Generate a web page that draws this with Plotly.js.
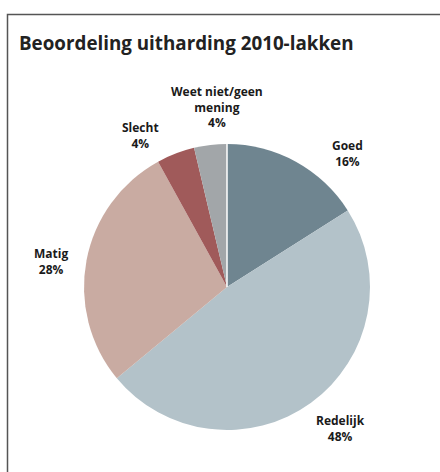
<!DOCTYPE html>
<html>
<head>
<meta charset="utf-8">
<script src="https://cdn.plot.ly/plotly-3.0.1.min.js"></script>
<style>html,body{margin:0;padding:0;background:#fff;}#chart{width:440px;height:472px;}</style>
</head>
<body>
<div id="chart"></div>
<script>
const categories = ["Goed", "Redelijk", "Matig", "Slecht", "Weet niet/geen<br>mening"];
const values = [16, 48, 28, 4.3, 3.7];
const percentLabels = ["16%", "48%", "28%", "4%", "4%"];
const colors = ["#6f8590", "#b3c2c9", "#c9aba2", "#a05a5a", "#a2a6a9"];

// label anchor positions in pixels (center x, center y)
const labelPos = [[347, 153], [340, 428], [51, 261], [140, 135], [217, 107]];
const W = 440, H = 472;

const annotations = categories.map((c, i) => ({
  text: c + "<br>" + percentLabels[i],
  x: labelPos[i][0] / W, y: 1 - labelPos[i][1] / H,
  xref: "paper", yref: "paper", showarrow: false,
  xanchor: "center", yanchor: "middle", align: "center",
  font: {family: "Open Sans", size: 12, color: "#1a1a1a", weight: 700}
}));
annotations.push({
  text: "Beoordeling uitharding 2010-lakken",
  x: 17 / W, y: 1 - 43 / H, xref: "paper", yref: "paper", showarrow: false,
  xanchor: "left", yanchor: "middle",
  font: {family: "Open Sans", size: 18.8, color: "#222", weight: 700}
});

const data = [{
  type: "pie",
  labels: categories,
  values: values,
  sort: false,
  direction: "clockwise",
  rotation: 0,
  textinfo: "none",
  hoverinfo: "none",
  marker: {colors: colors, line: {width: 0}},
  domain: {x: [84 / W, 370 / W], y: [1 - 430 / H, 1 - 144 / H]}
}];

const layout = {
  width: W, height: H,
  margin: {l: 0, r: 0, t: 0, b: 0},
  paper_bgcolor: "#fff",
  showlegend: false,
  annotations: annotations,
  shapes: [
    {type: "rect", xref: "paper", yref: "paper", x0: 7.5 / W, x1: 1.05, y0: -0.05, y1: 1 - 14.5 / H,
     line: {color: "#555", width: 1.5}},
    {type: "line", xref: "paper", yref: "paper", x0: 227 / W, x1: 227 / W, y0: 1 - 287 / H, y1: 1 - 143 / H,
     line: {color: "#fff", width: 1.5}}
  ]
};

Plotly.newPlot("chart", data, layout, {staticPlot: true});
</script>
</body>
</html>
